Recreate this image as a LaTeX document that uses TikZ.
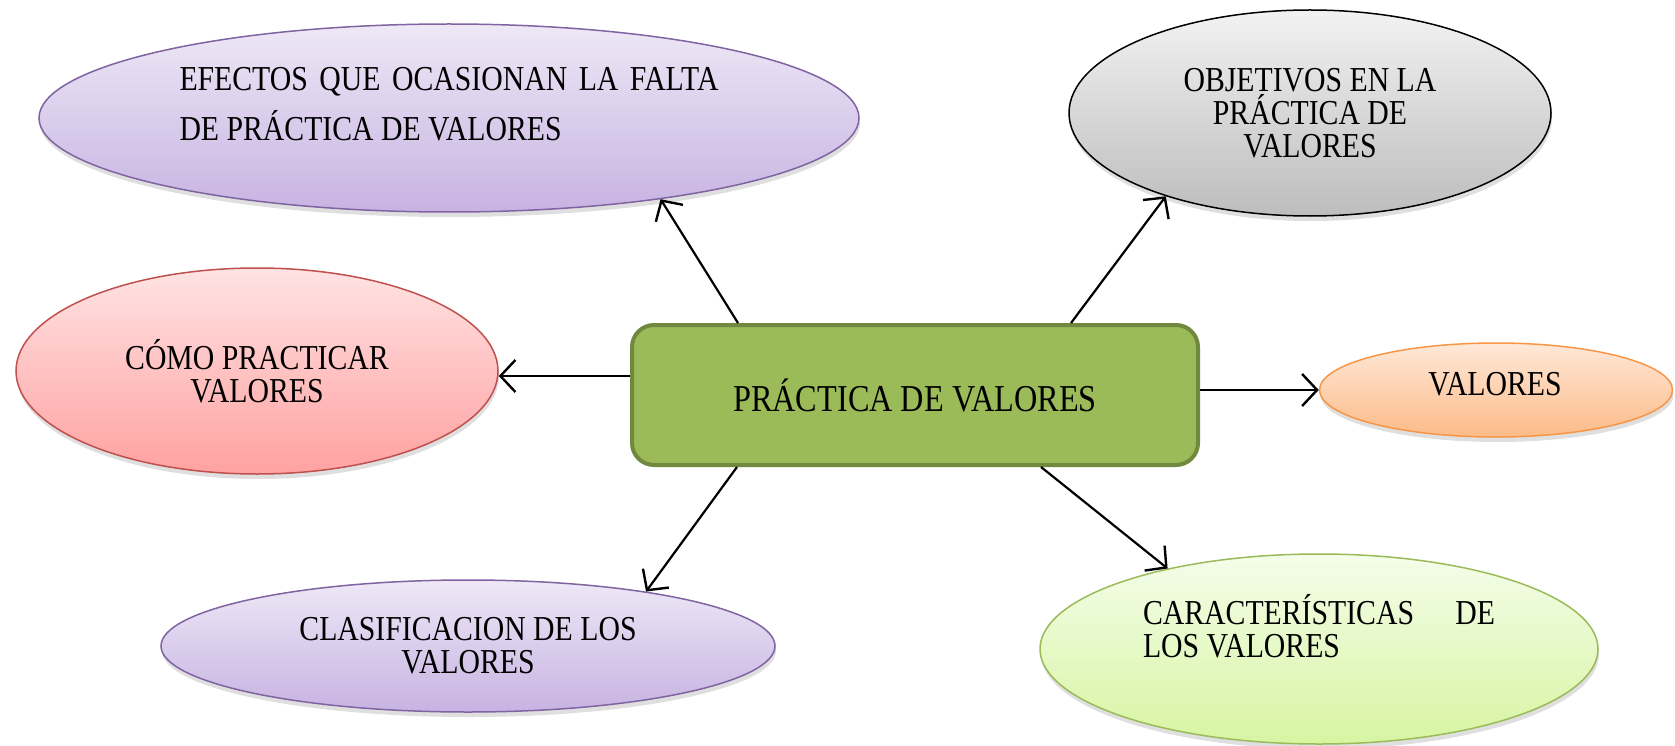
\documentclass[tikz,border=0pt]{standalone}
\usepackage{fontspec}
\setmainfont{Liberation Serif}[FakeStretch=0.85]
\usetikzlibrary{shapes.geometric,arrows.meta,shadows}

\definecolor{lilaTop}{HTML}{EEE8F6}
\definecolor{lilaBot}{HTML}{C7B3E2}
\definecolor{lilaLine}{HTML}{8064A2}
\definecolor{grisTop}{HTML}{F2F2F2}
\definecolor{grisBot}{HTML}{BDBDBD}
\definecolor{rosaTop}{HTML}{FFE3E3}
\definecolor{rosaBot}{HTML}{FFA1A1}
\definecolor{rosaLine}{HTML}{C0504D}
\definecolor{naranjaTop}{HTML}{FFE8D8}
\definecolor{naranjaBot}{HTML}{FCBB88}
\definecolor{naranjaLine}{HTML}{F79646}
\definecolor{verdeTop}{HTML}{F4FDEA}
\definecolor{verdeBot}{HTML}{D7F5A2}
\definecolor{verdeLine}{HTML}{9BBB59}
\definecolor{cajaFill}{HTML}{9BBB59}
\definecolor{cajaLine}{HTML}{71893F}

\tikzset{
  txt/.style={font=\fontsize{35}{33}\selectfont, align=center, inner sep=0pt},
  bubble/.style={ellipse, inner sep=0pt, line width=1.5pt, txt,
    drop shadow={shadow xshift=1pt, shadow yshift=-5pt, opacity=.25}},
  lila/.style={draw=lilaLine, top color=lilaTop, bottom color=lilaBot},
  gris/.style={draw=black, top color=grisTop, bottom color=grisBot},
  rosa/.style={draw=rosaLine, top color=rosaTop, bottom color=rosaBot},
  naranja/.style={draw=naranjaLine, top color=naranjaTop, bottom color=naranjaBot},
  verde/.style={draw=verdeLine, top color=verdeTop, bottom color=verdeBot},
  caja/.style={rectangle, rounded corners=22pt, draw=cajaLine, line width=4pt,
    fill=cajaFill, minimum width=566pt, minimum height=140pt, txt,
    font=\fontsize{38}{36}\selectfont},
  arr/.style={-{Straight Barb[length=15pt,width=32pt,line width=2.4pt]}, line width=2.2pt},
}

\begin{document}
\begin{tikzpicture}[x=1pt, y=-1pt]
  \useasboundingbox (0,0) rectangle (1675,746);
  % centro
  \node[caja] (practica) at (915,395) {PRÁCTICA DE VALORES};
  % burbujas
  \node[bubble, lila, minimum width=820pt, minimum height=188pt] (efectos) at (449,118) {};
  \node[txt, align=left] (efectosTxt) at (449,104)
    {\makebox[539pt][s]{EFECTOS QUE OCASIONAN LA FALTA}\\[13pt]DE PRÁCTICA DE VALORES};
  \node[bubble, gris, minimum width=482pt, minimum height=206pt] (objetivos) at (1310,113)
    {OBJETIVOS EN LA\\PRÁCTICA DE\\VALORES};
  \node[bubble, rosa, minimum width=482pt, minimum height=206pt] (como) at (257,371)
    {CÓMO PRACTICAR\\VALORES};
  \node[bubble, naranja, minimum width=353pt, minimum height=94pt] (valores) at (1496,390) {};
  \node[txt] (valoresTxt) at (1495,384) {VALORES};
  \node[bubble, lila, minimum width=614pt, minimum height=132pt] (clasificacion) at (468,646)
    {CLASIFICACION DE LOS\\VALORES};
  \node[bubble, verde, minimum width=558pt, minimum height=190pt] (caracteristicas) at (1319,649) {};
  \node[txt, align=left] (caracteristicasTxt) at (1319,626)
    {\makebox[352pt][s]{CARACTERÍSTICAS DE}\\LOS VALORES};
  % flechas
  \draw[arr] ([xshift=-177pt]practica.north) -- (efectos.-21);
  \draw[arr] ([xshift=156pt]practica.north) -- (objetivos.210);
  \draw[arr] ([yshift=19pt]practica.west) -- ([yshift=-5pt]como.east);
  \draw[arr] ([yshift=5pt]practica.east) -- (valores.west);
  \draw[arr] ([xshift=-178pt]practica.south) -- (clasificacion.17);
  \draw[arr] ([xshift=126pt]practica.south) -- (caracteristicas.152);
\end{tikzpicture}
\end{document}
